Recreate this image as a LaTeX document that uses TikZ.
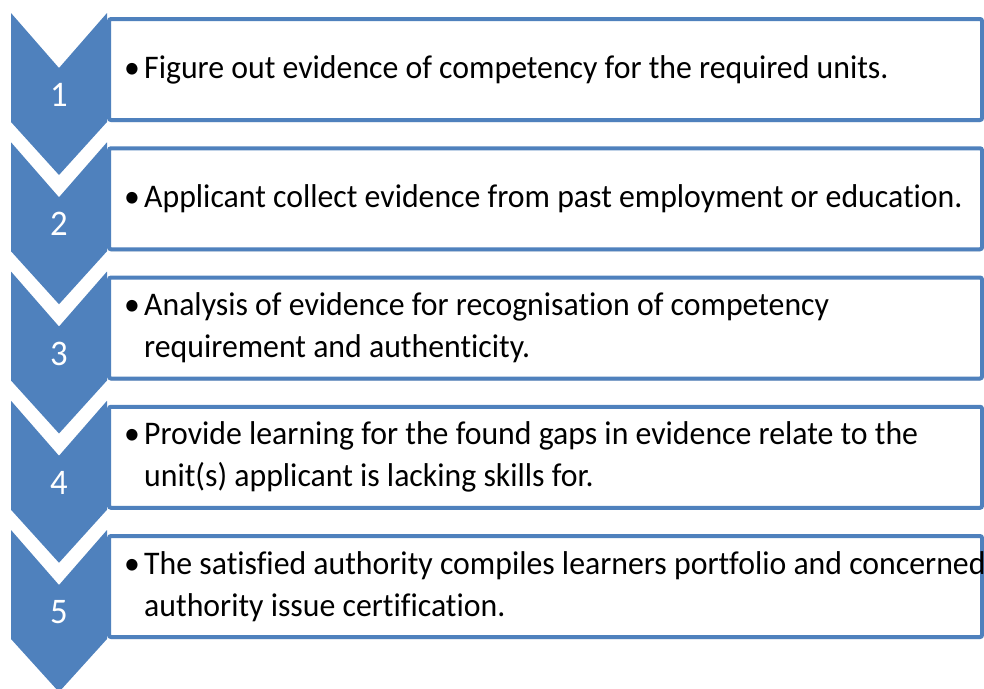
\documentclass[tikz,border=0pt]{standalone}
\usepackage{fontspec}
\setmainfont{Carlito}[FakeStretch=0.963, Ligatures=NoCommon]
\usetikzlibrary{positioning, shadows}

\definecolor{stepblue}{RGB}{79,129,189}
\newcommand{\bul}{\makebox[18pt][l]{\hspace*{-2pt}\textbullet}}

\begin{document}
\begin{tikzpicture}[x=1pt, y=-1pt,
    chevron/.style={fill=stepblue},
    stepbox/.style={draw=stepblue, line width=4pt, fill=white, rounded corners=2pt,
        minimum width=873pt, minimum height=101pt, anchor=north west, inner sep=0pt,
        drop shadow={opacity=0.35, shadow xshift=0pt, shadow yshift=-2pt}},
    steptext/.style={anchor=west, align=left, inner sep=0pt,
        font=\fontsize{33}{42}\selectfont},
    stepnum/.style={text=white, font=\fontsize{36}{36}\selectfont}]
    \useasboundingbox (0,0) rectangle (984,688);

    % Chevrons with step numbers
    \foreach \i in {1,...,5}
    {
        \pgfmathsetmacro{\t}{13+129.25*(\i-1)}
        \fill[chevron] (11,\t) -- (59,\t+55) -- (107,\t) -- (107,\t+109)
            -- (59,\t+162) -- (11,\t+109) -- cycle;
        \node[stepnum] (num\i) at (59,\t+82) {\i};
    }

    % Boxes
    \foreach \i in {1,...,5}
    {
        \pgfmathsetmacro{\b}{17+129.25*(\i-1)}
        \node[stepbox] (box\i) at (107,\b) {};
    }

    % Texts
    \node[steptext, xshift=19pt] (txt1) at (box1.west)
        {\bul Figure out evidence of competency for the required units.};
    \node[steptext, xshift=19pt] (txt2) at (box2.west)
        {\bul Applicant collect evidence from past employment or education.};
    \node[steptext, xshift=19pt] (txt3) at (box3.west)
        {\bul Analysis of evidence for recognisation of competency\\
         \hspace*{18pt}requirement and authenticity.};
    \node[steptext, xshift=19pt] (txt4) at (box4.west)
        {\bul Provide learning for the found gaps in evidence relate to the\\
         \hspace*{18pt}unit(s) applicant is lacking skills for.};
    \node[steptext, xshift=19pt] (txt5) at (box5.west)
        {\bul The satisfied authority compiles learners portfolio and concerned\\
         \hspace*{18pt}authority issue certification.};
\end{tikzpicture}
\end{document}
